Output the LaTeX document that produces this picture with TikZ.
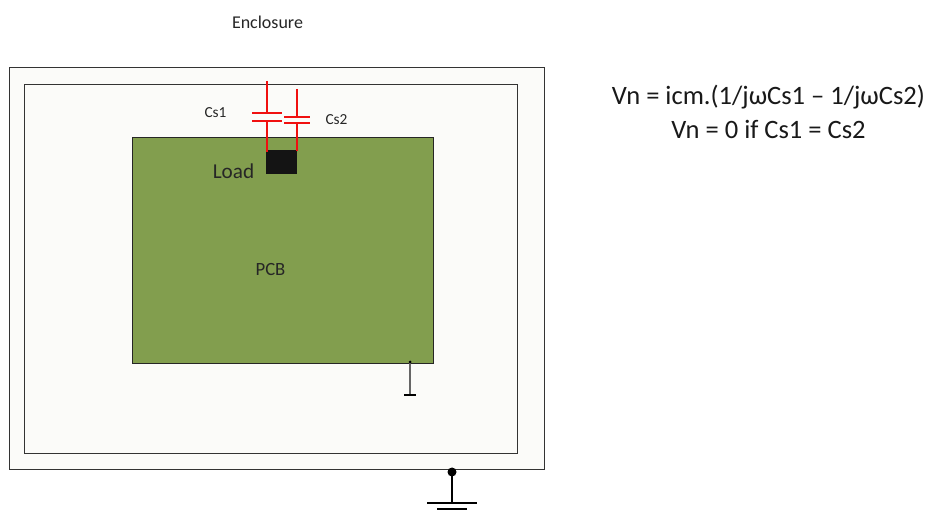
\documentclass[tikz,border=0pt]{standalone}
\usepackage{fontspec}
\setmainfont{Carlito}
\definecolor{pcbgreen}{HTML}{829E4E}
\definecolor{paper}{HTML}{FBFBF9}
\definecolor{capred}{HTML}{F01010}
\definecolor{loadblack}{HTML}{141414}
\tikzset{
  box/.style={draw=black!80,line width=0.8pt,fill=paper},
  lbl/.style={inner sep=0pt,text=black!85,font=\fontsize{13.5pt}{16pt}\selectfont},
  small/.style={inner sep=0pt,text=black!85,font=\fontsize{11.5pt}{14pt}\selectfont},
  big/.style={inner sep=0pt,text=black!90,font=\fontsize{19.9pt}{24pt}\selectfont},
  wire/.style={capred,line width=1.1pt},
  plate/.style={capred,line width=1.1pt},
  gnd/.style={black,line width=1pt}
}
\begin{document}
\begin{tikzpicture}[x=0.75pt,y=-0.75pt]
\useasboundingbox (0,0) rectangle (926,513);
\fill[white] (0,0) rectangle (926,513);
\node[box,minimum width=401.25pt,minimum height=301.5pt,anchor=north west,inner sep=0pt] (enc) at (9,67) {};
\node[box,minimum width=369.75pt,minimum height=276.75pt,anchor=north west,inner sep=0pt] (inner) at (24,84) {};
\node[draw=black!85,line width=0.75pt,fill=pcbgreen,minimum width=225.75pt,minimum height=169.5pt,anchor=north west,inner sep=0pt] (pcb) at (132,137) {};
\node[fill=loadblack,minimum width=23.25pt,minimum height=18pt,anchor=north west,inner sep=0pt] (load) at (266,150) {};
\node[lbl] (enctext) at (267.5,22) {Enclosure};
\node[lbl,font=\fontsize{14pt}{16pt}\selectfont] (pcbtext) at (270.5,270) {PCB};
\node[lbl,font=\fontsize{15.9pt}{18pt}\selectfont] (loadtext) at (233.5,171) {Load};
\node[small] (cs1) at (215.5,113) {Cs1};
\node[small] (cs2) at (336.5,120) {Cs2};
\node[big] (eq1) at (768.5,97) {Vn = icm.(1/jωCs1 – 1/jωCs2)};
\node[big] (eq2) at (768.5,129) {Vn = 0 if Cs1 = Cs2};
% capacitor 1
\coordinate (c1top) at (267,81);
\coordinate (c1a) at (267,113);
\coordinate (c1b) at (267,121);
\coordinate (c1bot) at (267,152);
\draw[wire] (c1top) -- (c1a);
\draw[wire] (c1b) -- (c1bot);
\draw[plate] (252,113) -- (282,113);
\draw[plate] (252,121) -- (282,121);
% capacitor 2
\coordinate (c2top) at (297,89);
\coordinate (c2a) at (297,117);
\coordinate (c2b) at (297,123);
\coordinate (c2bot) at (297,151);
\draw[wire] (c2top) -- (c2a);
\draw[wire] (c2b) -- (c2bot);
\draw[plate] (284,117) -- (310,117);
\draw[plate] (284,123) -- (310,123);
% pcb ground
\coordinate (pg) at (410,362);
\coordinate (pgb) at (410,395);
\draw[black!60,line width=0.9pt] (pg) -- (pgb);
\fill[black] (pg) circle (1.5);
\draw[black,line width=2.2pt] (404,395) -- (416,395);
% enclosure ground
\coordinate (eg) at (452,472);
\coordinate (egb) at (452,503);
\draw[gnd] (eg) -- (egb);
\fill[black] (eg) circle (4.5);
\draw[gnd] (427,503) -- (477,503);
\draw[black,line width=1.5pt] (437,509) -- (467,509);
\end{tikzpicture}
\end{document}
